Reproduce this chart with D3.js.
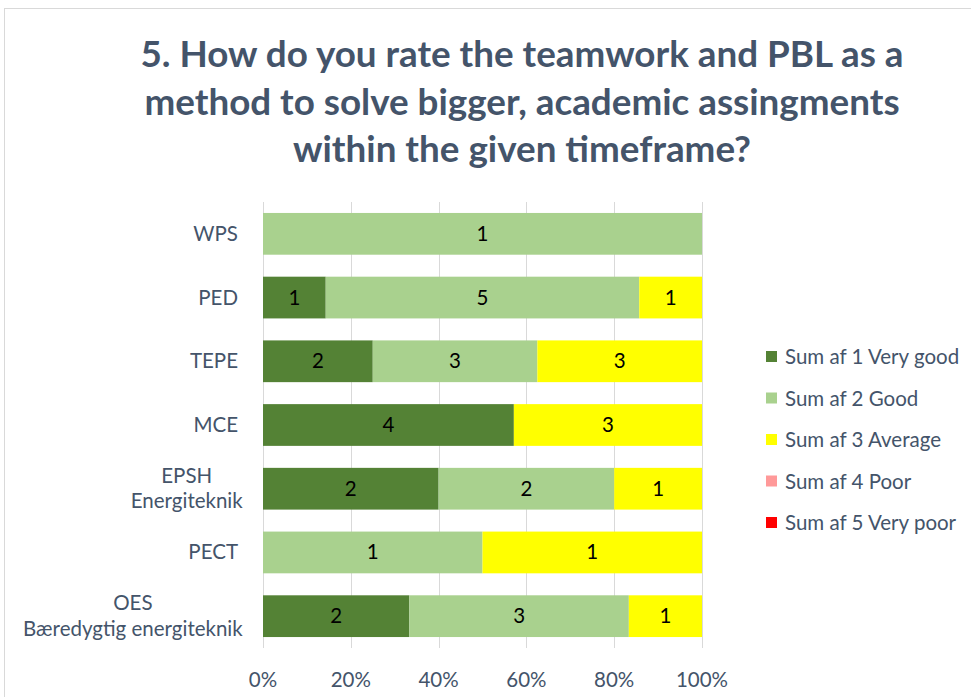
<!DOCTYPE html>
<html><head><meta charset="utf-8">
<script src="https://cdn.jsdelivr.net/npm/d3@7"></script>
<style>body{margin:0;background:#fff}svg{display:block}</style>
</head><body>
<script>
const categories = ["WPS","PED","TEPE","MCE","EPSH\nEnergiteknik","PECT","OES\nBæredygtig energiteknik"];
const seriesNames = ["Sum af 1 Very good","Sum af 2 Good","Sum af 3 Average","Sum af 4 Poor","Sum af 5 Very poor"];
const veryGood = [0,1,2,4,2,0,2];
const good     = [1,5,3,0,2,1,3];
const average  = [0,1,3,3,1,1,1];
const poor     = [0,0,0,0,0,0,0];
const veryPoor = [0,0,0,0,0,0,0];
const colors = ["#548235","#A9D18E","#FFFF00","#FF9999","#FF0000"];
const ticks = [0,0.2,0.4,0.6,0.8,1];
const titleLines = ["5. How do you rate the teamwork and PBL as a","method to solve bigger, academic assingments","within the given timeframe?"];

const W=971,H=697;
const svg=d3.select("body").append("svg").attr("width",W).attr("height",H);
svg.append("rect").attr("x",4.5).attr("y",8.5).attr("width",1000).attr("height",1000).attr("fill","#fff").attr("stroke","#D9D9D9");

const font="Lato, 'Open Sans', sans-serif";
const txt="#44546A";
const fs=20.5;
svg.append("g").selectAll("text").data(titleLines).join("text")
  .attr("x",522).attr("y",(d,i)=>67+i*47.5).attr("text-anchor","middle")
  .attr("font-family",font).attr("font-weight","bold").attr("font-size",36.8).attr("fill",txt).text(d=>d);

const series=[veryGood,good,average,poor,veryPoor];
const rows=categories.map((c,i)=>{const o={cat:c};series.forEach((s,j)=>o[j]=s[i]);o.total=series.reduce((a,s)=>a+s[i],0);return o;});
const stack=d3.stack().keys([0,1,2,3,4]).value((d,k)=>d[k]/d.total);
const stacked=stack(rows);

const x=d3.scaleLinear().domain([0,1]).range([263,702]);
const y=d3.scaleBand().domain(categories).range([202,648]).paddingInner(0.345).paddingOuter(0.172);

// gridlines
svg.append("g").selectAll("line").data(ticks).join("line")
  .attr("x1",d=>Math.round(x(d))+0.5).attr("x2",d=>Math.round(x(d))+0.5).attr("y1",202).attr("y2",648)
  .attr("stroke","#D9D9D9").attr("stroke-width",1);

const g=svg.append("g");
stacked.forEach((layer,j)=>{
  g.append("g").selectAll("rect").data(layer).join("rect")
   .attr("x",d=>x(d[0])).attr("width",d=>x(d[1])-x(d[0]))
   .attr("y",d=>y(d.data.cat)).attr("height",y.bandwidth())
   .attr("fill",colors[j]);
  g.append("g").selectAll("text").data(layer.filter(d=>d.data[j]>0)).join("text")
   .attr("x",d=>(x(d[0])+x(d[1]))/2).attr("y",d=>y(d.data.cat)+y.bandwidth()/2+7)
   .attr("text-anchor","middle").attr("font-family",font).attr("font-size",fs).attr("fill","#000")
   .text(d=>d.data[j]);
});

// y labels
const yl=svg.append("g");
categories.forEach(c=>{
  const lines=c.split("\n");
  const cy=y(c)+y.bandwidth()/2;
  const t=yl.append("text").attr("font-family",font).attr("font-size",fs).attr("fill",txt).attr("text-anchor","middle");
  lines.forEach((l,i)=>{
    t.append("tspan").attr("x",0).attr("y",cy+7+(i-(lines.length-1)/2)*25.5).text(l);
  });
  const bb=t.node().getBBox();
  const right = lines.length>1 ? 243 : 238;
  t.selectAll("tspan").attr("x",right-bb.width/2);
});

// x axis labels
svg.append("g").selectAll("text").data(ticks).join("text")
  .attr("x",d=>x(d)).attr("y",687).attr("text-anchor","middle")
  .attr("font-family",font).attr("font-size",fs).attr("fill",txt).text(d3.format(".0%"));

// legend
const lg=svg.append("g");
seriesNames.forEach((n,i)=>{
  const ly=357+i*41.5;
  lg.append("rect").attr("x",766).attr("y",ly-6).attr("width",11).attr("height",11).attr("fill",colors[i]);
  lg.append("text").attr("x",785).attr("y",ly+7).attr("font-family",font).attr("font-size",fs).attr("fill",txt).text(n);
});
</script>
</body></html>
